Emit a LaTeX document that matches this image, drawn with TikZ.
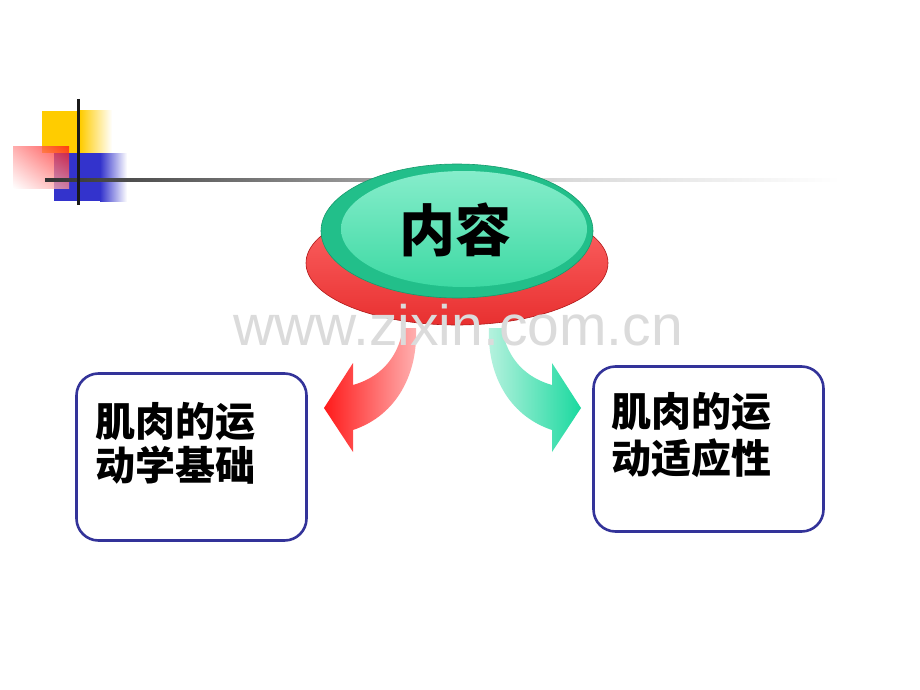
\documentclass[tikz,border=0pt]{standalone}
\usepackage{fontspec}
\setmainfont{Liberation Sans}
\newfontfamily\cjk{Noto Sans CJK SC}
\usetikzlibrary{fadings,shadings}
\definecolor{decoyellow}{HTML}{FFCC00}
\definecolor{decoblue}{HTML}{3333CC}
\definecolor{decored}{HTML}{FF1010}
\definecolor{redtop}{HTML}{FF6A6A}
\definecolor{redbot}{HTML}{E83030}
\definecolor{redrim}{HTML}{B01818}
\definecolor{greenouter}{HTML}{22BF8A}
\definecolor{greenrim}{HTML}{179A6C}
\definecolor{greentop}{HTML}{86EDCB}
\definecolor{greenbot}{HTML}{3DD9A3}
\definecolor{arrred}{HTML}{FF1A1A}
\definecolor{arrredlight}{HTML}{FFB3B3}
\definecolor{arrgreen}{HTML}{1AD99F}
\definecolor{arrgreenlight}{HTML}{B8F2DF}
\definecolor{boxblue}{HTML}{333399}
\tikzset{
  box/.style={draw=boxblue, line width=2.6pt, rounded corners=22pt, fill=white,
              minimum width=230pt, inner sep=0pt},
  boxtext/.style={anchor=west, inner sep=0pt, font=\cjk\bfseries\fontsize{40}{40}\selectfont},
  titletext/.style={inner sep=0pt, font=\cjk\bfseries\fontsize{56}{56}\selectfont},
  watermark/.style={anchor=base, inner sep=0pt, text=black!14, font=\fontsize{57}{57}\selectfont}
}
\begin{document}
\begin{tikzpicture}[x=1pt,y=-1pt]
\useasboundingbox (0,0) rectangle (920,690);
\fill[white] (0,0) rectangle (920,690);

% corner decoration
\fill[decoyellow] (42,111) rectangle (80,153);
\shade[left color=decoyellow, right color=white] (80,111) rectangle (112,153);
\fill[decoblue] (54,153) rectangle (100,201);
\shade[left color=decoblue, right color=white] (100,153) rectangle (127,201);
\shade[upper right=decored, lower left=white, upper left=decored!45!white,
       lower right=decored!45!white, opacity=0.75] (13,146) rectangle (69,188);

% horizontal rule
\shade[left color=black!80, right color=black!15] (45,178.5) rectangle (560,181.5);
\shade[left color=black!15, right color=white] (560,178.5) rectangle (840,181.5);
\draw[line width=3pt, black!90] (78,99) -- (78,205);

% title button
\shade[top color=redtop, bottom color=redbot, draw=redrim, line width=0.6pt]
  (457,263) ellipse (151 and 62);
\fill[greenouter, draw=greenrim, line width=0.6pt] (457,231) ellipse (136 and 67);
\shade[top color=greentop, bottom color=greenbot] (464,229) ellipse (123 and 58);
\node[titletext] (title) at (455,230) {内容};

% curved arrows
\shade[left color=arrred, right color=arrredlight]
  (324,408) -- (353,363) -- (353,385)
  .. controls (378,378) and (398,360) .. (403,328)
  -- (416,328)
  .. controls (418,372) and (398,415) .. (353,430)
  -- (353,452) -- cycle;
\shade[left color=arrgreenlight, right color=arrgreen]
  (581,408) -- (552,363) -- (552,385)
  .. controls (527,378) and (507,360) .. (502,328)
  -- (489,328)
  .. controls (487,372) and (507,415) .. (552,430)
  -- (552,452) -- cycle;

% boxes
\node[box, minimum height=167pt] (lbox) at (191.5,457) {};
\node[box, minimum height=165pt] (rbox) at (708.5,449) {};
\node[boxtext] (l1) at (95,422) {肌肉的运};
\node[boxtext] (l2) at (95,465) {动学基础};
\node[boxtext] (r1) at (611,412) {肌肉的运};
\node[boxtext] (r2) at (611,458) {动适应性};

% watermark
\node[watermark] (wm) at (458,345) {www.zixin.com.cn};
\end{tikzpicture}
\end{document}
